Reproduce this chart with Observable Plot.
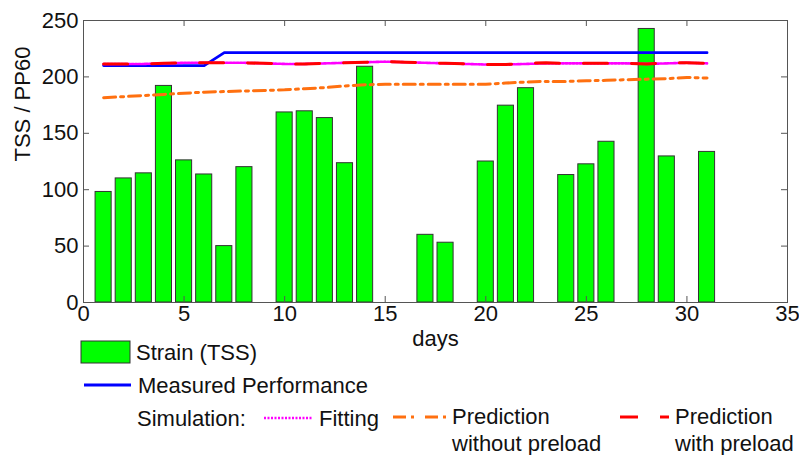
<!DOCTYPE html>
<html><head><meta charset="utf-8">
<script src="https://cdn.jsdelivr.net/npm/d3@7"></script>
<script src="https://cdn.jsdelivr.net/npm/@observablehq/plot@0.6"></script>
<style>
body{margin:0;background:#fff;font-family:"Liberation Sans",Arial,Helvetica,sans-serif;}
#wrap{position:relative;width:799px;height:455px;overflow:hidden;background:#fff;}
#legend{position:absolute;left:0;top:0;}
#legend text{font-family:"Liberation Sans",Arial,Helvetica,sans-serif;font-size:22px;fill:#111;}
</style></head><body><div id="wrap"></div>
<script>
// ---- data ----
const barDays = [1,2,3,4,5,6,7,8,10,11,12,13,14,17,18,20,21,22,24,25,26,28,29,31];
const strainTSS = [98,110,114.5,192,126,113.5,50,120,168.5,169.5,163.5,123.5,209,60,53,125,174.5,190,113,122.5,142.5,242.5,129.5,133.5];
const lineDays = d3.range(1, 32);
const measured = [210,210,210,210,210,210,221.5,221.5,221.5,221.5,221.5,221.5,221.5,221.5,221.5,221.5,221.5,221.5,221.5,221.5,221.5,221.5,221.5,221.5,221.5,221.5,221.5,221.5,221.5,221.5,221.5];
const fitting = [211.5,211.5,211.5,212,212.5,212.5,212.5,212.5,212,211.5,211.5,212,212.5,213,213.5,213,212.5,212,211.5,211,211,211.5,212,212,212,212,212,211.5,212,212.5,212];
const predNoPreload = [181.5,182.5,183.5,184.5,185.5,186.5,187,187.5,188,188.5,189.5,190.5,192,193,193.5,193.5,193.5,193.5,193.5,193.5,194.5,195.5,196,196,196.5,197,197.5,198,198.5,199.5,199];
const predPreload = [211.5,211.5,211.5,212,212.5,212.5,212.5,212.5,212,211.5,211.5,212,212.5,213,213.5,213,212.5,212,211.5,211,211,212,212.5,212,212,212,212,211.5,212.5,212.5,212];
const xTicks = [0,5,10,15,20,25,30,35];
const yTicks = [0,50,100,150,200,250];
const xInner = [5,10,15,20,25,30];
const yInner = [50,100,150,200];

const bars = barDays.map((d,i)=>({day:d, tss:strainTSS[i]}));
const lines = lineDays.map((d,i)=>({day:d, measured:measured[i], fitting:fitting[i], noPre:predNoPreload[i], pre:predPreload[i]}));

const W=799,H=360,ML=83,MR=12,MT=20,MB=58;
const innerH=H-MT-MB, innerW=W-ML-MR;
const font="'Liberation Sans',Arial,Helvetica,sans-serif";
const axisCol="#555";

const plot = Plot.plot({
  width:W, height:H, marginLeft:ML, marginRight:MR, marginTop:MT, marginBottom:MB,
  style:{fontFamily:font, fontSize:"22px", color:"#111", background:"#fff"},
  x:{domain:[0,35]},
  y:{domain:[0,250]},
  marks:[
    Plot.rectY(bars,{x1:d=>d.day-0.4, x2:d=>d.day+0.4, y1:0, y2:"tss", fill:"#00ff00", stroke:"#333", strokeWidth:1}),
    Plot.line(lines,{x:"day",y:"measured",stroke:"#0000ff",strokeWidth:2.8}),
    Plot.line(lines,{x:"day",y:"noPre",stroke:"#ff7010",strokeWidth:3,strokeDasharray:"12,5,3,5"}),
    Plot.line(lines,{x:"day",y:"fitting",stroke:"#ff00ff",strokeWidth:2.6,strokeDasharray:"2,1.5"}),
    Plot.line(lines,{x:"day",y:"pre",stroke:"#ff0000",strokeWidth:3,strokeDasharray:"24,24"}),
    Plot.tickX(xInner,{x:d=>d, insetTop:innerH-6, stroke:axisCol}),
    Plot.tickX(xInner,{x:d=>d, insetBottom:innerH-6, stroke:axisCol}),
    Plot.tickY(yInner,{y:d=>d, insetRight:innerW-6, stroke:axisCol}),
    Plot.tickY(yInner,{y:d=>d, insetLeft:innerW-6, stroke:axisCol}),
    Plot.frame({stroke:axisCol, strokeWidth:1}),
    Plot.axisX(xTicks,{tickSize:0, tickPadding:3, label:null, fill:"#111"}),
    Plot.axisY(yTicks,{tickSize:0, tickPadding:5, label:null, fill:"#111"}),
    Plot.text(["days"],{frameAnchor:"bottom", dy:43, text:d=>d, fontSize:22, fill:"#111"}),
    Plot.text(["TSS / PP60"],{frameAnchor:"left", rotate:-90, dx:-61, text:d=>d, fontSize:22, fill:"#111"})
  ]
});
const wrap=document.getElementById("wrap");
wrap.appendChild(plot);

const lg = `
<svg id="legend" width="799" height="455" xmlns="http://www.w3.org/2000/svg">
  <rect x="81" y="341" width="49" height="22" fill="#00ff00" stroke="#333" stroke-width="1"/>
  <text x="136" y="352" dy="0.36em">Strain (TSS)</text>
  <line x1="84" y1="385" x2="131" y2="385" stroke="#0000ff" stroke-width="2.8"/>
  <text x="138" y="385" dy="0.36em">Measured Performance</text>
  <text x="137" y="418" dy="0.36em">Simulation:</text>
  <line x1="264" y1="418" x2="313" y2="418" stroke="#ff00ff" stroke-width="2.6" stroke-dasharray="2,1.5"/>
  <text x="319" y="418" dy="0.36em">Fitting</text>
  <line x1="393" y1="417" x2="449" y2="417" stroke="#ff7010" stroke-width="3" stroke-dasharray="13,5,3,11"/>
  <text x="452" y="416" dy="0.36em">Prediction</text>
  <text x="452" y="443" dy="0.36em">without preload</text>
  <line x1="620" y1="417" x2="669" y2="417" stroke="#ff0000" stroke-width="3" stroke-dasharray="18,22"/>
  <text x="675" y="416" dy="0.36em">Prediction</text>
  <text x="675" y="443" dy="0.36em">with preload</text>
</svg>`;
wrap.insertAdjacentHTML("beforeend", lg);
</script></body></html>
